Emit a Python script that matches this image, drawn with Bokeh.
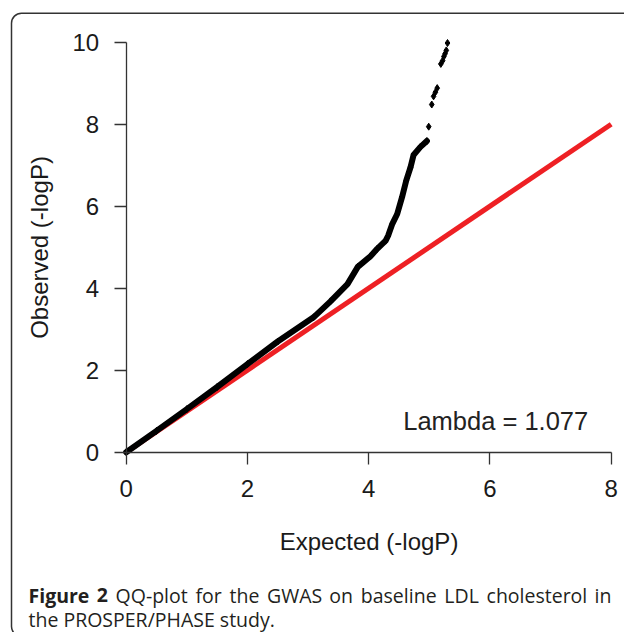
import glob
import os

from bokeh.plotting import figure
from bokeh.models import Range1d, FixedTicker, Label, BoxAnnotation, LinearAxis
from bokeh.embed import file_html
from bokeh.resources import INLINE

# ---- data ----
expected_dense = [0.0, 0.5, 1.0, 1.5, 2.0, 2.5, 3.09, 3.37, 3.65, 3.82, 4.03, 4.14,
                  4.28, 4.32, 4.39, 4.47, 4.55, 4.62, 4.69, 4.74, 4.85, 4.96]
observed_dense = [0.0, 0.52, 1.05, 1.59, 2.15, 2.70, 3.29, 3.68, 4.10, 4.52, 4.78, 4.96,
                  5.16, 5.28, 5.57, 5.81, 6.22, 6.63, 6.95, 7.25, 7.44, 7.59]
expected_tail = [4.99, 5.04, 5.07, 5.10, 5.13, 5.19, 5.22, 5.24, 5.26, 5.28, 5.30]
observed_tail = [7.94, 8.48, 8.68, 8.78, 8.88, 9.47, 9.55, 9.65, 9.72, 9.80, 9.98]
null_x = [0, 8]
null_y = [0, 8]
x_ticks = [0, 2, 4, 6, 8]
y_ticks = [0, 2, 4, 6, 8, 10]
lambda_value = 1.077
x_title = "Expected (-logP)"
y_title = "Observed (-logP)"
caption_bold = "Figure 2"
caption_line1 = "QQ-plot for the GWAS on baseline LDL cholesterol in"
caption_line2 = "the PROSPER/PHASE study."

# ---- layout (canvas pixels) ----
W, H = 624, 632
X0, X8 = 125.7, 610.7      # pixel of x = 0 and x = 8
Y0, Y10 = 451.7, 41.7      # pixel of y = 0 and y = 10
XPX = (X8 - X0) / 8.0
YPX = (Y0 - Y10) / 10.0


def px_x(c):
    return (c - X0) / XPX


def px_y(c):
    return (Y0 - c) / YPX


FONT = "Liberation Sans"
TXT = "#1a1a1a"
CAP = "Open Sans"
CAP_FS = 19.5
CAP_COLOR = "#231f20"
CAP_BASE1, CAP_BASE2 = 594.5, 618.5


# ---- text measuring for the justified caption line ----
def _font_files(key):
    out = []
    for root in ("/usr/share/fonts", "/usr/local/share/fonts",
                 os.path.expanduser("~/.fonts"), os.path.expanduser("~/.local/share/fonts")):
        out += glob.glob(os.path.join(root, "**", f"*{key}*"), recursive=True)
    return sorted(f for f in out if f.lower().endswith((".ttf", ".otf")))


def _load(bold):
    try:
        from PIL import ImageFont
    except Exception:
        return None
    files = _font_files("OpenSans")
    want = "Bold" if bold else "Regular"
    for f in files:
        b = os.path.basename(f)
        if b.startswith("OpenSans-") and os.path.splitext(b)[0].split("-", 1)[1] == want:
            try:
                return ImageFont.truetype(f, 100)
            except Exception:
                pass
    for f in files:
        b = os.path.basename(f)
        if "[" in b and "Italic" not in b:
            try:
                fnt = ImageFont.truetype(f, 100)
                if bold:
                    try:
                        fnt.set_variation_by_axes([100, 700])
                    except Exception:
                        try:
                            fnt.set_variation_by_name("Bold")
                        except Exception:
                            pass
                return fnt
            except Exception:
                pass
    return None


_fonts = {False: _load(False), True: _load(True)}


def text_width(s, bold, fs):
    f = _fonts[bold]
    if f is not None:
        try:
            return f.getlength(s) * fs / 100.0
        except Exception:
            pass
    return len(s) * fs * (0.60 if bold else 0.56)


p = figure(width=W, height=H,
           x_range=Range1d(px_x(0), px_x(W)), y_range=Range1d(px_y(H), px_y(0)),
           output_backend="svg", toolbar_location=None, title=None,
           x_axis_location=None, y_axis_location=None,
           min_border=0, min_border_left=0, min_border_right=0,
           min_border_top=0, min_border_bottom=0)
p.outline_line_color = None
p.xgrid.visible = False
p.ygrid.visible = False
p.background_fill_color = "white"
p.border_fill_color = "white"

xaxis = LinearAxis(fixed_location=0)
yaxis = LinearAxis(fixed_location=0)
p.add_layout(xaxis, "below")
p.add_layout(yaxis, "left")

for ax, ticks, title, b in ((xaxis, x_ticks, x_title, (0, 8)),
                            (yaxis, y_ticks, y_title, (0, 10))):
    ax.ticker = FixedTicker(ticks=ticks)
    ax.bounds = b
    ax.axis_label = title
    ax.axis_line_color = "#333333"
    ax.axis_line_width = 1.3
    ax.major_tick_line_color = "#333333"
    ax.major_tick_line_width = 1.3
    ax.major_tick_out = 12
    ax.major_tick_in = 0
    ax.minor_tick_line_color = None
    ax.major_label_orientation = "horizontal"
    ax.major_label_text_font = FONT
    ax.major_label_text_font_size = "24px"
    ax.major_label_text_color = TXT
    ax.axis_label_text_font = FONT
    ax.axis_label_text_font_size = "24px"
    ax.axis_label_text_font_style = "normal"
    ax.axis_label_text_color = TXT
xaxis.major_label_standoff = 16
yaxis.major_label_standoff = 15
xaxis.axis_label_standoff = 27
yaxis.axis_label_standoff = 17

# null line (expected = observed)
p.line(null_x, null_y, line_color="#ee2024", line_width=5)
# observed quantiles
p.line(expected_dense, observed_dense, line_color="black", line_width=6,
       line_join="round", line_cap="round")
p.scatter(expected_dense, observed_dense, marker="diamond", size=7,
          fill_color="black", line_color="black")
p.scatter(expected_tail, observed_tail, marker="diamond", size=7,
          fill_color="black", line_color="black")

p.add_layout(Label(x=px_x(402.7), y=px_y(420.7), text=f"Lambda = {lambda_value}",
                   text_font=FONT, text_font_size="25.5px", text_color="#222222",
                   text_baseline="alphabetic", text_align="left"))

# frame round the figure panel
p.add_layout(BoxAnnotation(left=px_x(11), right=px_x(660), top=px_y(12.7), bottom=px_y(636),
                           fill_alpha=0, line_color="#333333", line_alpha=1.0,
                           line_width=1.5, border_radius=10))

# ---- caption: first line justified between x=28 and x=611, second line left ----
cap_left, cap_right = 28.0, 611.0
words = [(w, True) for w in caption_bold.split()] + [(w, False) for w in caption_line1.split()]
widths = [text_width(w, b, CAP_FS) for w, b in words]
space = text_width(" ", False, CAP_FS)
gap = max(space, (cap_right - cap_left - sum(widths)) / (len(words) - 1))
xpos = cap_left
for (w, b), wd in zip(words, widths):
    p.add_layout(Label(x=px_x(xpos), y=px_y(CAP_BASE1), text=w, text_font=CAP,
                       text_font_style="bold" if b else "normal",
                       text_font_size=f"{CAP_FS}px", text_color=CAP_COLOR,
                       text_baseline="alphabetic"))
    xpos += wd + gap
p.add_layout(Label(x=px_x(cap_left), y=px_y(CAP_BASE2), text=caption_line2, text_font=CAP,
                   text_font_size=f"{CAP_FS}px", text_color=CAP_COLOR,
                   text_baseline="alphabetic"))

open("out.html", "w").write(file_html(p, INLINE))
